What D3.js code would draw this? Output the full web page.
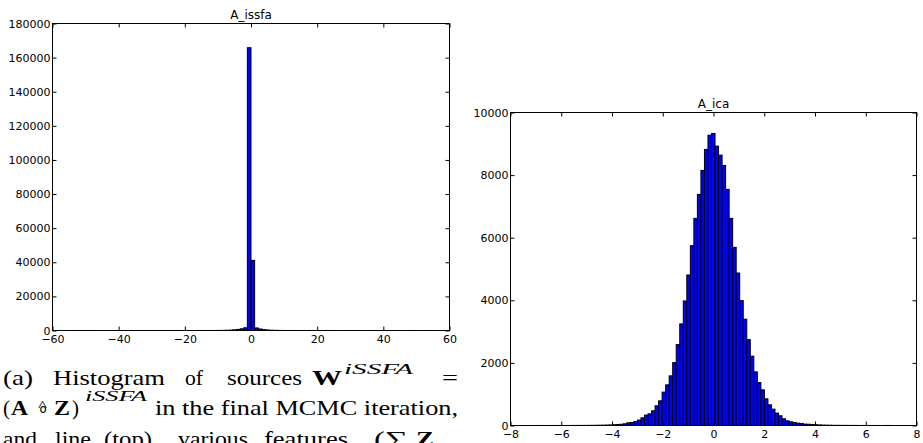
<!DOCTYPE html>
<html>
<head>
<meta charset="utf-8">
<script src="https://cdn.jsdelivr.net/npm/d3@7"></script>
<style>
  body { margin: 0; background: #fff; }
  svg { display: block; }
  .tick text { font-family: "DejaVu Sans", sans-serif; font-size: 11px; fill: #000; }
  .cap { font-family: "Liberation Serif", serif; font-size: 21px; fill: #000; }
</style>
</head>
<body>
<div id="chart"></div>
<script>
// histogram counts, 100 bins each
const issfaCounts = [
  2,1,0,1,0,0,1,0,0,1, 0,0,1,0,0,0,1,0,0,1, 0,1,0,1,1,0,2,1,2,3, 2,4,3,5,6,8,10,13,18,25,
  35,50,80,130,220,380,620,1000,1600,165800,
  41100,1500,900,520,300,170,95,55,30,18,
  12,8,6,4,3,3,2,2,1,1, 1,0,1,1,0,0,1,0,0,1, 0,0,1,0,0,0,1,0,0,0, 1,0,0,0,1,0,0,0,0,1
];
const issfaBins = { start: -55, width: 1.1 };

const icaCounts = [
  1,0,0,1,0,1,0,1,1,1, 2,2,3,3,4,5,6,8,11,14,
  18,24,32,40,54,86,96,128,172,246,
  332,373,469,629,788,1066,1299,1586,2010,2585,
  3245,3979,4809,5744,6618,7383,8150,8820,9276,9330,
  8925,8638,8308,7543,6618,5692,4872,3989,3395,2744,
  2214,1713,1372,1139,852,660,523,396,310,214,
  150,118,96,75,65,43,40,30,25,18,
  14,10,8,6,5,4,3,3,2,2, 1,1,1,1,0,1,0,0,1,1
];
const icaBins = { start: -6.89, width: 0.139 };

const issfaXTicks = [-60, -40, -20, 0, 20, 40, 60];
const issfaYTicks = d3.range(0, 180001, 20000);
const icaXTicks = [-8, -6, -4, -2, 0, 2, 4, 6, 8];
const icaYTicks = [0, 2000, 4000, 6000, 8000, 10000];

const W = 923, H = 443;
const svg = d3.select("#chart").append("svg")
  .attr("width", W).attr("height", H);

function histPanel(opt) {
  const x = d3.scaleLinear().domain(opt.xDomain).range([opt.left, opt.right]);
  const y = d3.scaleLinear().domain(opt.yDomain).range([opt.bottom, opt.top]);
  const g = svg.append("g");

  g.selectAll("rect.bar")
    .data(opt.counts)
    .enter().append("rect")
    .attr("class", "bar")
    .attr("x", (d, i) => x(opt.bins.start + i * opt.bins.width))
    .attr("width", (d, i) => x(opt.bins.start + (i + 1) * opt.bins.width) - x(opt.bins.start + i * opt.bins.width))
    .attr("y", d => y(d))
    .attr("height", d => y(0) - y(d))
    .attr("fill", "#0000ff")
    .attr("stroke", "#000")
    .attr("stroke-width", 1);

  const fmt = d3.format("d");
  const bottom = g.append("g").attr("transform", `translate(0,${opt.bottom})`)
    .call(d3.axisBottom(x).tickValues(opt.xTicks).tickFormat(d => fmt(d).replace("-", "\u2212"))
      .tickSizeInner(-4).tickSizeOuter(0).tickPadding(5));
  const top = g.append("g").attr("transform", `translate(0,${opt.top})`)
    .call(d3.axisTop(x).tickValues(opt.xTicks).tickFormat("").tickSizeInner(-4).tickSizeOuter(0));
  const left = g.append("g").attr("transform", `translate(${opt.left},0)`)
    .call(d3.axisLeft(y).tickValues(opt.yTicks).tickFormat(fmt)
      .tickSizeInner(-4).tickSizeOuter(0).tickPadding(2));
  const right = g.append("g").attr("transform", `translate(${opt.right},0)`)
    .call(d3.axisRight(y).tickValues(opt.yTicks).tickFormat("").tickSizeInner(-4).tickSizeOuter(0));
  [bottom, top, left, right].forEach(a => {
    a.select(".domain").remove();
    a.attr("font-family", null).attr("font-size", null);
    a.selectAll(".tick line").attr("stroke", "#000");
  });

  g.append("rect")
    .attr("x", opt.left).attr("y", opt.top)
    .attr("width", opt.right - opt.left).attr("height", opt.bottom - opt.top)
    .attr("fill", "none").attr("stroke", "#000").attr("stroke-width", 1);

  g.append("text")
    .attr("x", (opt.left + opt.right) / 2).attr("y", opt.top - 5)
    .attr("text-anchor", "middle")
    .attr("font-family", "DejaVu Sans, sans-serif").attr("font-size", 12)
    .text(opt.title);
}

histPanel({
  title: "A_issfa", counts: issfaCounts, bins: issfaBins,
  xDomain: [-60, 60], yDomain: [0, 180000], xTicks: issfaXTicks, yTicks: issfaYTicks,
  left: 52.5, right: 449.5, top: 23.5, bottom: 330.5
});
histPanel({
  title: "A_ica", counts: icaCounts, bins: icaBins,
  xDomain: [-8, 8], yDomain: [0, 10000], xTicks: icaXTicks, yTicks: icaYTicks,
  left: 510.5, right: 916.5, top: 112.5, bottom: 425.5
});

// caption under left panel (LaTeX figure caption)
const cap = svg.append("g").attr("class", "cap");
function word(g, x, y, s, len, style) {
  const t = g.append("text").attr("class", "cap").attr("x", x).attr("y", y).text(s);
  if (len) t.attr("textLength", len).attr("lengthAdjust", "spacingAndGlyphs");
  if (style) Object.entries(style).forEach(([k, v]) => t.style(k, v));
  return t;
}
const sup = { "font-style": "italic", "font-size": "15px" };
const bold = { "font-weight": "bold" };
const l1 = 385, l2 = 415, l3 = 446;
// line 1
word(cap, 3, l1, "(a)", 30);
word(cap, 53, l1, "Histogram", 112);
word(cap, 185, l1, "of", 18);
word(cap, 227, l1, "sources", 75);
word(cap, 312, l1, "W", 30, bold);
word(cap, 344, l1 - 11, "iSSFA", 69, sup);
word(cap, 442, l1, "=", 16);
// line 2
word(cap, 3, l2, "(", 7);
word(cap, 11, l2, "A", 17, bold);
word(cap, 37, l2, "\u2218", 12);
word(cap, 38, l2 - 4, "^", 9, { "font-size": "14px" });
word(cap, 54, l2, "Z", 16, bold);
word(cap, 72, l2, ")", 7);
word(cap, 85, l2 - 14, "iSSFA", 62, sup);
word(cap, 155, l2, "in the final MCMC iteration,", 303);
// line 3 (cut off by the page edge)
word(cap, 3, l3, "and", 34);
word(cap, 55, l3, "line", 36);
word(cap, 104, l3, "(top)", 48);
word(cap, 178, l3, "various", 70);
word(cap, 264, l3, "features", 84);
word(cap, 374, l3, "(\u2211", 34);
word(cap, 416, l3, "Z", 18, bold);
</script>
</body>
</html>
